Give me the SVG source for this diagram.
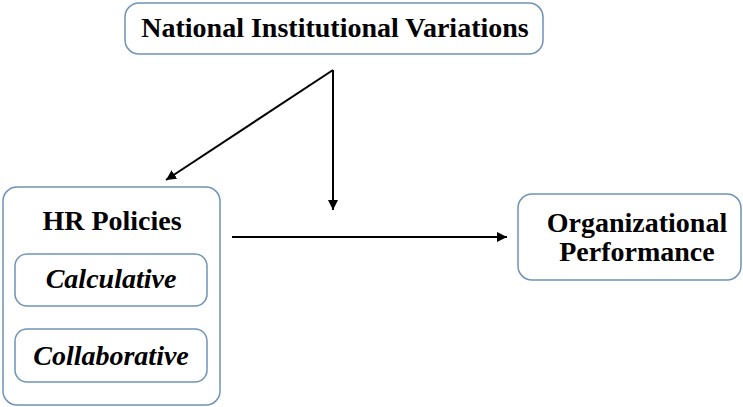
<svg xmlns="http://www.w3.org/2000/svg" width="743" height="407" viewBox="0 0 743 407">
<defs>
<marker id="ah" viewBox="0 0 10 10" refX="10" refY="5" markerWidth="10" markerHeight="10" markerUnits="userSpaceOnUse" orient="auto">
<path d="M0,0 L10,5 L0,10 z" fill="#000"/>
</marker>
</defs>
<style>
.box{fill:#fff;stroke:#6f93b8;stroke-width:1.5}
.t{font-family:'Liberation Serif', 'DejaVu Serif', serif;font-weight:bold;fill:#000;text-anchor:middle;font-size:28px}
.i{font-style:italic}
.c{stroke:#000;stroke-width:2;fill:none}
</style>
<rect width="743" height="407" fill="#fff"/>
<g id="national">
<rect class="box" x="125" y="3" width="418" height="51" rx="14"/>
<text class="t" x="335" y="37">National Institutional Variations</text>
</g>
<g id="hr">
<rect class="box" x="3" y="187" width="217" height="218" rx="14"/>
<text class="t" x="112" y="230">HR Policies</text>
</g>
<g id="calculative">
<rect class="box" x="15" y="254" width="192" height="52" rx="12"/>
<text class="t i" x="111" y="288">Calculative</text>
</g>
<g id="collaborative">
<rect class="box" x="15" y="329" width="192" height="53" rx="12"/>
<text class="t i" x="111" y="365">Collaborative</text>
</g>
<g id="org">
<rect class="box" x="518" y="194" width="223" height="86" rx="14"/>
<text class="t" x="637" y="232">Organizational</text>
<text class="t" x="637" y="261">Performance</text>
</g>
<g id="connectors">
<path class="c" d="M333,70 L166,180" marker-end="url(#ah)"/>
<path class="c" d="M333,70 L333,210" marker-end="url(#ah)"/>
<path class="c" d="M232,237 L507,237" marker-end="url(#ah)"/>
</g>
</svg>
